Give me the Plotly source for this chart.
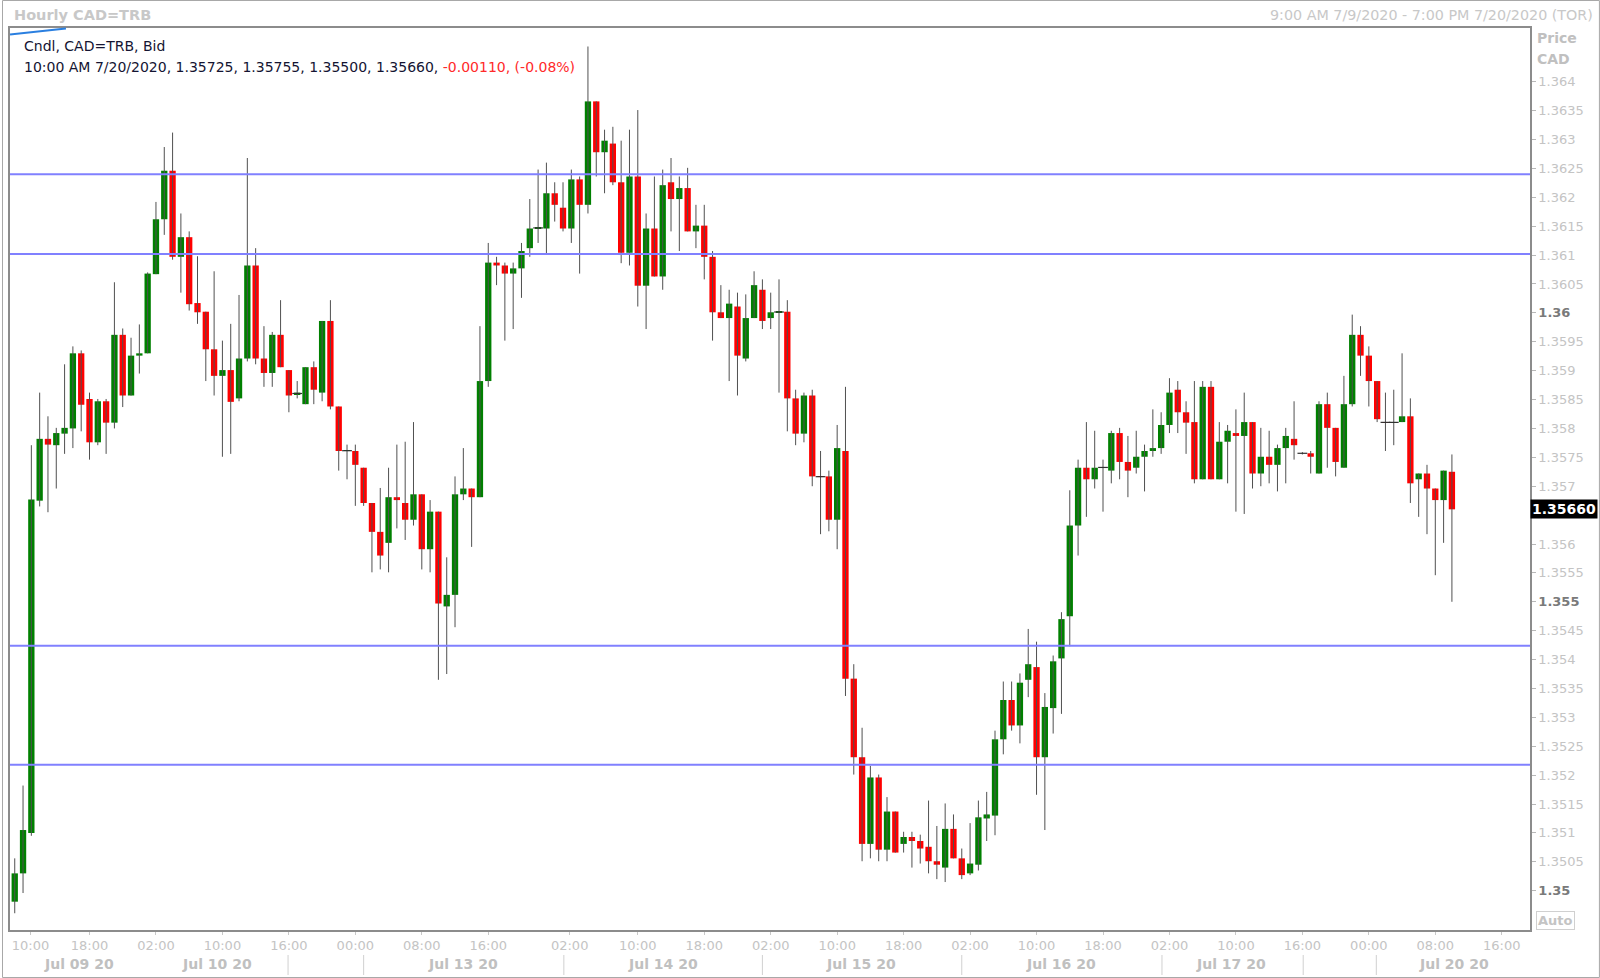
import plotly.graph_objects as go

# ---------------- data ----------------
opens = [1.34981, 1.35030, 1.35100, 1.35675, 1.35782, 1.35771, 1.35791, 1.35800, 1.35930, 1.35851,
         1.35776, 1.35847, 1.35810, 1.35962, 1.35857, 1.35926, 1.35930, 1.36067, 1.36162, 1.36246,
         1.36097, 1.36131, 1.36017, 1.36002, 1.35937, 1.35891, 1.35901, 1.35852, 1.35921, 1.36082,
         1.35921, 1.35896, 1.35962, 1.35901, 1.35859, 1.35842, 1.35906, 1.35862, 1.35986, 1.35838,
         1.35761, 1.35761, 1.35732, 1.35671, 1.35621, 1.35602, 1.35681, 1.35671, 1.35642, 1.35686,
         1.35591, 1.35656, 1.35492, 1.35512, 1.35686, 1.35696, 1.35681, 1.35882, 1.36087, 1.36082,
         1.36068, 1.36077, 1.36112, 1.36146, 1.36146, 1.36207, 1.36182, 1.36146, 1.36231, 1.36187,
         1.36366, 1.36278, 1.36293, 1.36226, 1.36104, 1.36236, 1.36047, 1.36146, 1.36063, 1.36226,
         1.36197, 1.36216, 1.36141, 1.36151, 1.36097, 1.36001, 1.35991, 1.36011, 1.35921, 1.35991,
         1.36040, 1.35991, 1.36001, 1.36002, 1.35852, 1.35791, 1.35857, 1.35717, 1.35717, 1.35642,
         1.35761, 1.35367, 1.35231, 1.35081, 1.35196, 1.35071, 1.35137, 1.35081, 1.35093, 1.35086,
         1.35076, 1.35051, 1.35040, 1.35107, 1.35056, 1.35030, 1.35045, 1.35125, 1.35130, 1.35262,
         1.35330, 1.35286, 1.35365, 1.35387, 1.35231, 1.35316, 1.35402, 1.35475, 1.35632, 1.35732,
         1.35712, 1.35732, 1.35727, 1.35792, 1.35742, 1.35732, 1.35751, 1.35761, 1.35766, 1.35806,
         1.35867, 1.35828, 1.35811, 1.35712, 1.35872, 1.35712, 1.35777, 1.35792, 1.35787, 1.35811,
         1.35722, 1.35751, 1.35737, 1.35766, 1.35782, 1.35757, 1.35757, 1.35722, 1.35842, 1.35801,
         1.35732, 1.35842, 1.35962, 1.35926, 1.35882, 1.35811, 1.35810, 1.35811, 1.35821, 1.35712,
         1.35722, 1.35696, 1.35676, 1.35725]
highs = [1.35056, 1.35182, 1.35771, 1.35862, 1.35821, 1.35801, 1.35911, 1.35942, 1.35935, 1.35862,
         1.35851, 1.35851, 1.36053, 1.35973, 1.35957, 1.35980, 1.36070, 1.36192, 1.36287, 1.36312,
         1.36172, 1.36141, 1.36098, 1.36002, 1.36072, 1.35952, 1.35981, 1.36031, 1.36268, 1.36112,
         1.35977, 1.35967, 1.36022, 1.35901, 1.35882, 1.35906, 1.35916, 1.35986, 1.36022, 1.35838,
         1.35772, 1.35772, 1.35732, 1.35671, 1.35697, 1.35732, 1.35772, 1.35777, 1.35811, 1.35686,
         1.35676, 1.35656, 1.35577, 1.35717, 1.35766, 1.35696, 1.35977, 1.36121, 1.36097, 1.36087,
         1.36087, 1.36121, 1.36197, 1.36248, 1.36260, 1.36226, 1.36226, 1.36248, 1.36236, 1.36461,
         1.36366, 1.36317, 1.36322, 1.36298, 1.36317, 1.36351, 1.36172, 1.36236, 1.36248, 1.36268,
         1.36236, 1.36251, 1.36187, 1.36187, 1.36107, 1.36048, 1.36040, 1.36035, 1.36032, 1.36072,
         1.36058, 1.36035, 1.36058, 1.36022, 1.35867, 1.35862, 1.35867, 1.35761, 1.35727, 1.35806,
         1.35872, 1.35392, 1.35282, 1.35216, 1.35201, 1.35162, 1.35137, 1.35102, 1.35102, 1.35097,
         1.35156, 1.35112, 1.35151, 1.35132, 1.35073, 1.35117, 1.35156, 1.35171, 1.35277, 1.35362,
         1.35362, 1.35376, 1.35453, 1.35431, 1.35342, 1.35407, 1.35482, 1.35693, 1.35746, 1.35811,
         1.35796, 1.35746, 1.35796, 1.35801, 1.35787, 1.35796, 1.35772, 1.35833, 1.35828, 1.35887,
         1.35882, 1.35847, 1.35882, 1.35882, 1.35882, 1.35811, 1.35806, 1.35833, 1.35862, 1.35811,
         1.35801, 1.35796, 1.35772, 1.35801, 1.35847, 1.35759, 1.35761, 1.35847, 1.35862, 1.35801,
         1.35891, 1.35997, 1.35977, 1.35942, 1.35882, 1.35862, 1.35867, 1.35930, 1.35852, 1.35722,
         1.35737, 1.35696, 1.35727, 1.35755]
lows = [1.34961, 1.34996, 1.35095, 1.35665, 1.35655, 1.35696, 1.35756, 1.35766, 1.35795, 1.35746,
        1.35771, 1.35756, 1.35800, 1.35837, 1.35857, 1.35895, 1.35930, 1.36067, 1.36135, 1.36092,
        1.36035, 1.36004, 1.35981, 1.35882, 1.35857, 1.35751, 1.35756, 1.35847, 1.35916, 1.35911,
        1.35872, 1.35872, 1.35906, 1.35828, 1.35852, 1.35842, 1.35842, 1.35847, 1.35833, 1.35727,
        1.35712, 1.35666, 1.35666, 1.35551, 1.35556, 1.35551, 1.35627, 1.35607, 1.35632, 1.35556,
        1.35551, 1.35365, 1.35375, 1.35456, 1.35676, 1.35595, 1.35681, 1.35872, 1.36048, 1.35952,
        1.35972, 1.36026, 1.36097, 1.36121, 1.36102, 1.36158, 1.36141, 1.36121, 1.36068, 1.36172,
        1.36236, 1.36207, 1.36221, 1.36086, 1.36082, 1.36011, 1.35972, 1.36063, 1.36040, 1.36141,
        1.36107, 1.36141, 1.36112, 1.36058, 1.35952, 1.35991, 1.35882, 1.35857, 1.35916, 1.35991,
        1.35972, 1.35972, 1.35862, 1.35795, 1.35771, 1.35776, 1.35700, 1.35617, 1.35622, 1.35591,
        1.35337, 1.35201, 1.35051, 1.35056, 1.35051, 1.35051, 1.35066, 1.35066, 1.35040, 1.35047,
        1.35030, 1.35020, 1.35015, 1.35056, 1.35020, 1.35027, 1.35035, 1.35086, 1.35096, 1.35236,
        1.35277, 1.35255, 1.35335, 1.35166, 1.35105, 1.35272, 1.35306, 1.35423, 1.35580, 1.35647,
        1.35696, 1.35656, 1.35705, 1.35712, 1.35681, 1.35722, 1.35691, 1.35751, 1.35756, 1.35792,
        1.35792, 1.35756, 1.35705, 1.35712, 1.35712, 1.35712, 1.35705, 1.35656, 1.35652, 1.35696,
        1.35700, 1.35705, 1.35691, 1.35705, 1.35746, 1.35755, 1.35722, 1.35722, 1.35732, 1.35717,
        1.35732, 1.35838, 1.35891, 1.35838, 1.35811, 1.35761, 1.35771, 1.35811, 1.35671, 1.35647,
        1.35617, 1.35546, 1.35602, 1.35500]
closes = [1.35030, 1.35105, 1.35677, 1.35782, 1.35772, 1.35792, 1.35801, 1.35930, 1.35841, 1.35776,
          1.35847, 1.35810, 1.35962, 1.35857, 1.35926, 1.35930, 1.36068, 1.36162, 1.36246, 1.36097,
          1.36131, 1.36015, 1.36001, 1.35937, 1.35891, 1.35901, 1.35846, 1.35921, 1.36082, 1.35921,
          1.35896, 1.35962, 1.35906, 1.35857, 1.35862, 1.35906, 1.35867, 1.35986, 1.35838, 1.35761,
          1.35762, 1.35737, 1.35671, 1.35621, 1.35580, 1.35681, 1.35676, 1.35642, 1.35686, 1.35591,
          1.35656, 1.35497, 1.35512, 1.35686, 1.35696, 1.35681, 1.35882, 1.36087, 1.36082, 1.36068,
          1.36077, 1.36107, 1.36146, 1.36148, 1.36207, 1.36187, 1.36146, 1.36231, 1.36187, 1.36366,
          1.36278, 1.36298, 1.36226, 1.36104, 1.36236, 1.36047, 1.36146, 1.36063, 1.36221, 1.36197,
          1.36216, 1.36141, 1.36151, 1.36097, 1.36001, 1.35991, 1.36016, 1.35926, 1.35991, 1.36048,
          1.35986, 1.36001, 1.36002, 1.35852, 1.35791, 1.35857, 1.35717, 1.35716, 1.35642, 1.35766,
          1.35367, 1.35231, 1.35081, 1.35196, 1.35071, 1.35137, 1.35066, 1.35093, 1.35086, 1.35073,
          1.35051, 1.35045, 1.35107, 1.35056, 1.35027, 1.35047, 1.35127, 1.35132, 1.35262, 1.35330,
          1.35286, 1.35360, 1.35392, 1.35231, 1.35318, 1.35397, 1.35470, 1.35632, 1.35732, 1.35712,
          1.35732, 1.35733, 1.35792, 1.35742, 1.35727, 1.35751, 1.35761, 1.35766, 1.35806, 1.35862,
          1.35828, 1.35810, 1.35712, 1.35872, 1.35712, 1.35777, 1.35796, 1.35787, 1.35811, 1.35722,
          1.35751, 1.35737, 1.35766, 1.35787, 1.35771, 1.35757, 1.35751, 1.35842, 1.35801, 1.35742,
          1.35842, 1.35962, 1.35926, 1.35882, 1.35816, 1.35810, 1.35811, 1.35821, 1.35705, 1.35722,
          1.35696, 1.35676, 1.35727, 1.35660]

levels = [1.36240, 1.36102, 1.35424, 1.35218]

time_tick_pos = [1.9, 9, 17, 25, 33, 41, 49, 57, 66.8, 75, 83, 91, 99, 107, 115, 123, 131,
                 139, 147, 155, 163, 171, 179]
time_tick_text = ["10:00", "18:00", "02:00", "10:00", "16:00", "00:00", "08:00", "16:00",
                  "02:00", "10:00", "18:00", "02:00", "10:00", "18:00", "02:00", "10:00",
                  "18:00", "02:00", "10:00", "16:00", "00:00", "08:00", "16:00"]
date_labels = ["Jul 09 20", "Jul 10 20", "Jul 13 20", "Jul 14 20", "Jul 15 20",
               "Jul 16 20", "Jul 17 20", "Jul 20 20"]
date_label_pos = [7.7, 24.4, 53.9, 78.0, 101.9, 125.9, 146.4, 173.2]
day_separators = [32.9, 42.0, 66.1, 90.0, 114.0, 138.1, 155.1, 163.9]

price_ticks = [1.3500, 1.3505, 1.3510, 1.3515, 1.3520, 1.3525, 1.3530, 1.3535, 1.3540, 1.3545,
               1.3550, 1.3555, 1.3560, 1.3565, 1.3570, 1.3575, 1.3580, 1.3585, 1.3590, 1.3595,
               1.3600, 1.3605, 1.3610, 1.3615, 1.3620, 1.3625, 1.3630, 1.3635, 1.3640]
major_price_ticks = [1.3500, 1.3550, 1.3600]

# ---------------- styling ----------------
FONT = "DejaVu Sans"
GREEN = "#008000"
RED = "#ff0000"
WICK = "#505050"
AXIS_GRAY = "#c4c4c4"
MAJOR_GRAY = "#7a7a7a"

# plot area in pixels (for converting annotation positions)
W, H = 1600, 978
ML, MR, MT, MB = 8, 70, 28, 48
PW, PH = W - ML - MR, H - MT - MB


def px(xp):
    return (xp - ML) / PW


def py(yp):
    return 1 - (yp - MT) / PH


idx = list(range(len(opens)))

# wicks
wx, wy = [], []
for i, h, l in zip(idx, highs, lows):
    wx += [i, i, None]
    wy += [l, h, None]

body_base = [min(o, c) for o, c in zip(opens, closes)]
body_h = [abs(c - o) for o, c in zip(opens, closes)]
body_col = [GREEN if c >= o else RED for o, c in zip(opens, closes)]

doji_x = [i for i, o, c in zip(idx, opens, closes) if abs(c - o) <= 0.00003]
doji_y = [(opens[i] + closes[i]) / 2 for i in doji_x]

fig = go.Figure()
fig.add_trace(go.Scatter(x=wx, y=wy, mode="lines", line=dict(color=WICK, width=1),
                         hoverinfo="skip", showlegend=False))
fig.add_trace(go.Bar(x=idx, y=body_h, base=body_base, width=0.76,
                     marker=dict(color=body_col, line=dict(width=0)),
                     customdata=list(zip(opens, highs, lows, closes)),
                     hovertemplate="O %{customdata[0]:.5f}<br>H %{customdata[1]:.5f}<br>"
                                   "L %{customdata[2]:.5f}<br>C %{customdata[3]:.5f}<extra></extra>",
                     showlegend=False))
fig.add_trace(go.Scatter(x=doji_x, y=doji_y, mode="markers",
                         marker=dict(symbol="line-ew", size=7, line=dict(color="#303030", width=1.2)),
                         hoverinfo="skip", showlegend=False))

last_close = closes[-1]


def fmt_tick(v):
    # the tick hidden behind the last-price box is left blank
    if abs(v - last_close) < 0.00025:
        return ""
    s = f"{v:.4f}".rstrip("0")
    if any(abs(v - m) < 1e-9 for m in major_price_ticks):
        return f"<b><span style='color:{MAJOR_GRAY}'>{s}</span></b>"
    return s


shapes = []
for lv in levels:
    shapes.append(dict(type="line", xref="paper", yref="y", x0=0, x1=1, y0=lv, y1=lv,
                       line=dict(color="rgb(128,128,255)", width=2), layer="above"))
for s in day_separators:
    shapes.append(dict(type="line", xref="x", yref="paper", x0=s, x1=s,
                       y0=py(955), y1=py(975), line=dict(color="#d0d0d0", width=1)))
# outer frame of the image
shapes.append(dict(type="rect", xref="paper", yref="paper", x0=px(0.5), x1=px(1599.5),
                   y0=py(977.5), y1=py(0.5), line=dict(color="#a8a8a8", width=1)))
# small blue stroke at top-left corner
shapes.append(dict(type="line", xref="paper", yref="paper", x0=px(8), y0=py(34.5),
                   x1=px(64), y1=py(28.5), line=dict(color="#2a7fe0", width=2)))

annotations = []
annotations.append(dict(xref="paper", yref="paper", x=px(10), y=py(15), xanchor="left",
                        yanchor="middle", showarrow=False, text="<b>Hourly CAD=TRB</b>",
                        font=dict(family=FONT, size=14.5, color="#c8c8c8")))
annotations.append(dict(xref="paper", yref="paper", x=px(1595), y=py(15), xanchor="right",
                        yanchor="middle", showarrow=False,
                        text="9:00 AM 7/9/2020 - 7:00 PM 7/20/2020 (TOR)",
                        font=dict(family=FONT, size=14.3, color="#c8c8c8")))
annotations.append(dict(xref="paper", yref="paper", x=px(20), y=py(46), xanchor="left",
                        yanchor="middle", showarrow=False, text="Cndl, CAD=TRB, Bid",
                        font=dict(family=FONT, size=14, color="#141432")))
legend2 = (f"10:00 AM 7/20/2020, {opens[-1]:.5f}, {highs[-1]:.5f}, {lows[-1]:.5f}, "
           f"{closes[-1]:.5f}, <span style='color:#ff2a2a'>-0.00110, (-0.08%)</span>")
annotations.append(dict(xref="paper", yref="paper", x=px(20), y=py(67), xanchor="left",
                        yanchor="middle", showarrow=False, text=legend2,
                        font=dict(family=FONT, size=14, color="#141432")))
annotations.append(dict(xref="paper", yref="paper", x=px(1535), y=py(38), xanchor="left",
                        yanchor="middle", showarrow=False, text="<b>Price</b>",
                        font=dict(family=FONT, size=14, color="#c0c0c0")))
annotations.append(dict(xref="paper", yref="paper", x=px(1535), y=py(59), xanchor="left",
                        yanchor="middle", showarrow=False, text="<b>CAD</b>",
                        font=dict(family=FONT, size=14, color="#c0c0c0")))
annotations.append(dict(xref="paper", yref="paper", x=px(1536), y=py(920), xanchor="left",
                        yanchor="middle", showarrow=False, text="<b>Auto</b>",
                        bordercolor="#d0d0d0", borderwidth=1, borderpad=1,
                        font=dict(family=FONT, size=13, color="#c4c4c4")))
annotations.append(dict(xref="paper", yref="y", x=1.0, y=last_close, xanchor="left",
                        yanchor="middle", showarrow=False, text=f"<b>{last_close:.5f}</b>",
                        bgcolor="#000000", borderpad=1,
                        font=dict(family=FONT, size=14, color="#ffffff")))
for lab, pos in zip(date_labels, date_label_pos):
    annotations.append(dict(xref="x", yref="paper", x=pos, y=py(964), xanchor="center",
                            yanchor="middle", showarrow=False, text=f"<b>{lab}</b>",
                            font=dict(family=FONT, size=14, color="#c0c0c0")))

fig.update_layout(
    width=W, height=H,
    margin=dict(l=ML, r=MR, t=MT, b=MB),
    paper_bgcolor="#ffffff", plot_bgcolor="#ffffff",
    showlegend=False,
    font=dict(family=FONT),
    shapes=shapes,
    annotations=annotations,
    xaxis=dict(range=[-0.57, 182.4], tickmode="array", tickvals=time_tick_pos,
               ticktext=time_tick_text, showgrid=False, zeroline=False,
               showline=True, mirror=True, linecolor="#8c8c8c", linewidth=1.5,
               ticks="outside", ticklen=3, tickcolor="#c8c8c8",
               tickfont=dict(family=FONT, size=13, color=AXIS_GRAY), fixedrange=True),
    yaxis=dict(range=[1.34932, 1.36493], side="right", tickmode="array",
               tickvals=price_ticks, ticktext=[fmt_tick(v) for v in price_ticks],
               showgrid=False, zeroline=False, showline=True, mirror=True,
               linecolor="#8c8c8c", linewidth=1.5, ticks="outside", ticklen=4,
               tickcolor="#b8b8b8", tickfont=dict(family=FONT, size=13, color=AXIS_GRAY),
               fixedrange=True),
)

fig.write_html("out.html", config={"displayModeBar": False},
               post_script="document.body.style.margin='0';")
